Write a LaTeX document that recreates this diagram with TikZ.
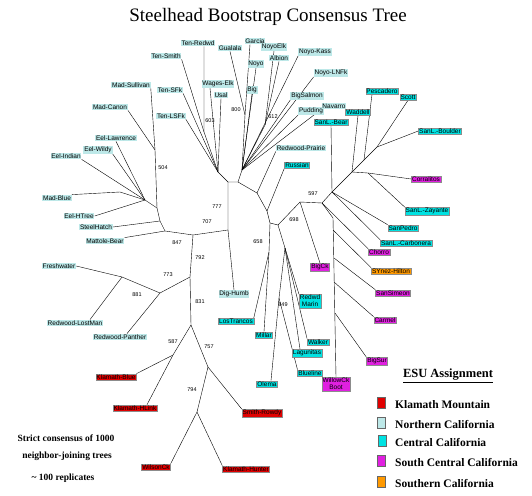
\documentclass[tikz,border=0pt]{standalone}
\usepackage{fontspec}
\setmainfont{Liberation Serif}
\setsansfont{Liberation Sans}
\usetikzlibrary{backgrounds}
\definecolor{esured}{HTML}{E00000}
\definecolor{esunorth}{HTML}{BDE8E8}
\definecolor{esucent}{HTML}{00E2E2}
\definecolor{esusouthc}{HTML}{E020E0}
\definecolor{esusouth}{HTML}{FF9900}

\begin{document}
\begin{tikzpicture}[x=1pt,y=-1pt,
  lbl/.style={font=\sffamily\fontsize{6.5}{7}\selectfont,inner sep=0.8pt,align=center},
  nc/.style={lbl,fill=esunorth},
  cc/.style={lbl,fill=esucent,draw=black!45,line width=0.3pt},
  sc/.style={lbl,fill=esusouthc,draw=black!45,line width=0.3pt},
  so/.style={lbl,fill=esusouth,draw=black!45,line width=0.3pt},
  km/.style={lbl,fill=esured,draw=black!45,line width=0.3pt},
  bsv/.style={font=\sffamily\fontsize{5.5}{6}\selectfont,inner sep=0pt},
  br/.style={line width=0.9pt,color=black!85,line join=round},
  key/.style={draw=black!60,line width=0.4pt,minimum width=8pt,minimum height=11pt,inner sep=0pt},
  keytxt/.style={font=\bfseries\fontsize{11.5}{13}\selectfont,anchor=west,inner sep=0pt},
  note/.style={font=\bfseries\fontsize{9.5}{11}\selectfont,inner sep=0pt}]
\useasboundingbox (0,0) rectangle (532,495);

\node[font=\fontsize{19}{22}\selectfont] (title) at (268,17) {Steelhead Bootstrap Consensus Tree};

\coordinate (a) at (155,150);
\coordinate (n504) at (157,208);
\coordinate (g1) at (160,221);
\coordinate (f) at (165,231);
\coordinate (e) at (145,200);
\coordinate (mbb) at (120,192);
\coordinate (h) at (193,235);
\coordinate (j) at (228,230);
\coordinate (m) at (228,182);
\coordinate (h1) at (218,172);
\coordinate (t1) at (204,132);
\coordinate (h2) at (238,182);
\coordinate (h2b) at (242,170);
\coordinate (g800) at (245,115);
\coordinate (n612) at (265,125);
\coordinate (rp) at (257,193);
\coordinate (ru) at (267,211);
\coordinate (nc1) at (270,223);
\coordinate (q) at (278,225);
\coordinate (q3) at (269,252);
\coordinate (q2) at (285,248);
\coordinate (n849) at (279,298);
\coordinate (r) at (300,202);
\coordinate (s) at (322,203);
\coordinate (hubc) at (332,192);
\coordinate (v) at (352,172);
\coordinate (w) at (377,147);
\coordinate (pm) at (364,160);
\coordinate (z) at (368,173);
\coordinate (ct) at (333,218);
\coordinate (c1) at (333,230);
\coordinate (c2) at (334,258);
\coordinate (c3) at (334,282);
\coordinate (c4) at (335,313);
\coordinate (k1) at (190,277);
\coordinate (k) at (160,293);
\coordinate (l) at (122,277);
\coordinate (k2) at (191,325);
\coordinate (kl) at (173,355);
\coordinate (kr) at (208,367);
\coordinate (kb) at (197,412);

\node[nc] (tenredwd) at (198,43) {Ten-Redwd};
\node[nc] (tensmith) at (166,56) {Ten-Smith};
\node[nc] (madsul) at (131,85) {Mad-Sullivan};
\node[nc] (madcanon) at (110,107) {Mad-Canon};
\node[nc] (eellaw) at (116,138) {Eel-Lawrence};
\node[nc] (eelwild) at (98,150) {Eel-Wildy};
\node[nc] (eelind) at (66,156) {Eel-Indian};
\node[nc] (tensfk) at (170,90) {Ten-SFk};
\node[nc] (tenlsfk) at (171,116) {Ten-LSFk};
\node[nc] (wages) at (218,84) {Wages-Elk};
\node[nc] (usal) at (221,95) {Usal};
\node[nc] (gualala) at (230,48) {Gualala};
\node[nc] (garcia) at (255,41) {Garcia};
\node[nc] (noyoelk) at (274,47) {NoyoElk};
\node[nc] (albion) at (279,58) {Albion};
\node[nc] (noyo) at (256,64) {Noyo};
\node[nc] (big) at (252,90) {Big};
\node[nc] (noyokass) at (315,52) {Noyo-Kass};
\node[nc] (noyolnfk) at (331,73) {Noyo-LNFk};
\node[nc] (bigsalmon) at (307,96) {BigSalmon};
\node[nc] (pudding) at (311,111) {Pudding};
\node[nc] (navarro) at (334,106) {Navarro};
\node[nc] (rwprairie) at (301,148) {Redwood-Prairie};
\node[nc] (madblue) at (57,198) {Mad-Blue};
\node[nc] (eelhtree) at (79,216) {Eel-HTree};
\node[nc] (steelhatch) at (96,227) {SteelHatch};
\node[nc] (mattole) at (105,241) {Mattole-Bear};
\node[nc] (fresh) at (59,266) {Freshwater};
\node[nc] (rwlost) at (75,323) {Redwood-LostMan};
\node[nc] (rwpanther) at (120,337) {Redwood-Panther};
\node[nc] (dighumb) at (234,294) {Dig-Humb};

\node[cc] (russian) at (297,165) {Russian};
\node[cc] (sanlbear) at (331,122) {SanL.-Bear};
\node[cc] (waddell) at (358,112) {Waddell};
\node[cc] (pescadero) at (382,91) {Pescadero};
\node[cc] (scott) at (408,97) {Scott};
\node[cc] (sanlboulder) at (440,131) {SanL.-Boulder};
\node[cc] (sanlzay) at (427,211) {SanL.-Zayante};
\node[cc] (sanpedro) at (403,228) {SanPedro};
\node[cc] (sanlcarb) at (406,243) {SanL.-Carbonera};
\node[cc] (rwmarin) at (310,301) {Redwd\\Marin};
\node[cc] (walker) at (318,342) {Walker};
\node[cc] (lagunitas) at (307,353) {Lagunitas};
\node[cc] (blueline) at (310,373) {Blueline};
\node[cc] (olema) at (267,384) {Olema};
\node[cc] (millar) at (264,335) {Millar};
\node[cc] (lostrancos) at (236,321) {LosTrancos};

\node[sc] (corralitos) at (426,179) {Corralitos};
\node[sc] (chorro) at (379,252) {Chorro};
\node[sc] (sansimeon) at (393,293) {SanSimeon};
\node[sc] (carmel) at (385,320) {Carmel};
\node[sc] (bigsur) at (377,361) {BigSur};
\node[sc] (willow) at (336,384) {WillowCk\\Boot};
\node[sc] (bigck) at (320,267) {BigCk};
\node[so] (synez) at (391,271) {SYnez-Hilton};

\node[km] (kblue) at (116,377) {Klamath-Blue};
\node[km] (khlink) at (135,408) {Klamath-HLink};
\node[km] (smith) at (262,413) {Smith-Rowdy};
\node[km] (wilson) at (156,467) {WilsonCk};
\node[km] (khunter) at (246,469) {Klamath-Hunter};

\node[bsv] (b504) at (163,168) {504};
\node[bsv] (b847) at (177,243) {847};
\node[bsv] (b707) at (207,222) {707};
\node[bsv] (b777) at (217,207) {777};
\node[bsv] (b792) at (200,258) {792};
\node[bsv] (b773) at (168,275) {773};
\node[bsv] (b881) at (137,295) {881};
\node[bsv] (b831) at (200,302) {831};
\node[bsv] (b587) at (173,342) {587};
\node[bsv] (b757) at (209,347) {757};
\node[bsv] (b794) at (192,390) {794};
\node[bsv] (b603) at (210,121) {603};
\node[bsv] (b800) at (236,110) {800};
\node[bsv] (b612) at (273,117) {612};
\node[bsv] (b658) at (258,242) {658};
\node[bsv] (b698) at (294,220) {698};
\node[bsv] (b597) at (313,194) {597};
\node[bsv] (b849) at (283,305) {849};

\begin{scope}[on background layer,br]
\draw (a) -- (madsul.south east);
\draw (a) -- (madcanon.south east);
\draw (a) -- (n504) -- (g1) -- (f) -- (h) -- (j) -- (m) -- (h2) -- (rp) -- (ru) -- (nc1) -- (q) -- (r) -- (s) -- (hubc) -- (v) -- (pm) -- (w);
\draw (e) -- (n504);
\draw (e) -- (eellaw.south);
\draw (e) -- (eelwild.south east);
\draw (e) -- (eelind.south east);
\draw (e) -- (mbb) -- (madblue.north east);
\draw (e) -- (eelhtree.east);
\draw (g1) -- (steelhatch.east);
\draw (f) -- (mattole.north east);
\draw (m) -- (h1) -- (t1) -- ([xshift=6pt]tenredwd.south);
\draw (t1) -- (tensmith.south east);
\draw (h1) -- (tensfk.south east);
\draw (h1) -- (tenlsfk.south east);
\draw (h1) -- ([xshift=-8pt]wages.south);
\draw (h1) -- (usal.south);
\draw (h2) -- (h2b) -- (g800) -- (gualala.south);
\draw (g800) -- ([xshift=-5pt]garcia.south);
\draw (h2b) -- (noyo.south);
\draw (h2b) -- (n612) -- (noyoelk.south);
\draw (n612) -- (albion.south);
\draw (h2b) -- (big.south);
\draw (h2b) -- (noyokass.south west);
\draw (h2b) -- (noyolnfk.south west);
\draw (h2b) -- (bigsalmon.south west);
\draw (h2b) -- (pudding.south west);
\draw (h2b) -- (navarro.south west);
\draw (rp) -- (rwprairie.south west);
\draw (ru) -- (russian.south west);
\draw (r) -- (bigck.north);
\draw (hubc) -- (sanlbear.south);
\draw (v) -- (waddell.south);
\draw (pm) -- ([xshift=-10pt]pescadero.south);
\draw (w) -- (scott.south);
\draw (w) -- (sanlboulder.west);
\draw (v) -- (z) -- (corralitos.west);
\draw (z) -- (sanlzay.north west);
\draw (hubc) -- (sanpedro.north west);
\draw (hubc) -- (sanlcarb.north west);
\draw (s) -- (chorro.north west);
\draw (s) -- (ct) -- (willow.north);
\draw (c1) -- (synez.north west);
\draw (c2) -- (sansimeon.north west);
\draw (c3) -- (carmel.north west);
\draw (c4) -- (bigsur.north west);
\draw (q) -- (q2) -- (rwmarin.north west);
\draw (q2) -- (walker.north west);
\draw (q2) -- ([xshift=-7pt]lagunitas.north);
\draw (q2) -- (n849) -- ([xshift=4pt]olema.north);
\draw (n849) -- (blueline.north west);
\draw (nc1) -- (q3) -- (lostrancos.north east);
\draw (q3) -- (millar.north);
\draw (j) -- (dighumb.north);
\draw (h) -- (k1) -- (k) -- (l) -- (fresh.east);
\draw (l) -- ([xshift=15pt]rwlost.north);
\draw (k) -- ([xshift=7pt]rwpanther.north);
\draw (k1) -- (k2) -- (kl) -- (kblue.north east);
\draw (kl) -- ([xshift=12pt]khlink.north);
\draw (k2) -- (kr) -- (smith.north west);
\draw (kr) -- (kb) -- (wilson.north east);
\draw (kb) -- (khunter.north west);
\end{scope}

\node[note] (note1) at (66,438) {Strict consensus of 1000};
\node[note] (note2) at (67,456) {neighbor-joining trees};
\node[note] (note3) at (63,478) {\textasciitilde{} 100 replicates};

\node[font=\bfseries\fontsize{12.5}{14}\selectfont] (esutitle) at (448,376) {\underline{ESU Assignment}};
\node[key,fill=esured] (keykm) at (381,403) {};
\node[keytxt] (txtkm) at (395,405) {Klamath Mountain};
\node[key,fill=esunorth] (keync) at (381,423) {};
\node[keytxt] (txtnc) at (395,425) {Northern California};
\node[key,fill=esucent] (keycc) at (382,441) {};
\node[keytxt] (txtcc) at (395,443) {Central California};
\node[key,fill=esusouthc] (keysc) at (381,461) {};
\node[keytxt] (txtsc) at (395,463) {South Central California};
\node[key,fill=esusouth] (keyso) at (381,482) {};
\node[keytxt] (txtso) at (395,484) {Southern California};
\end{tikzpicture}
\end{document}
